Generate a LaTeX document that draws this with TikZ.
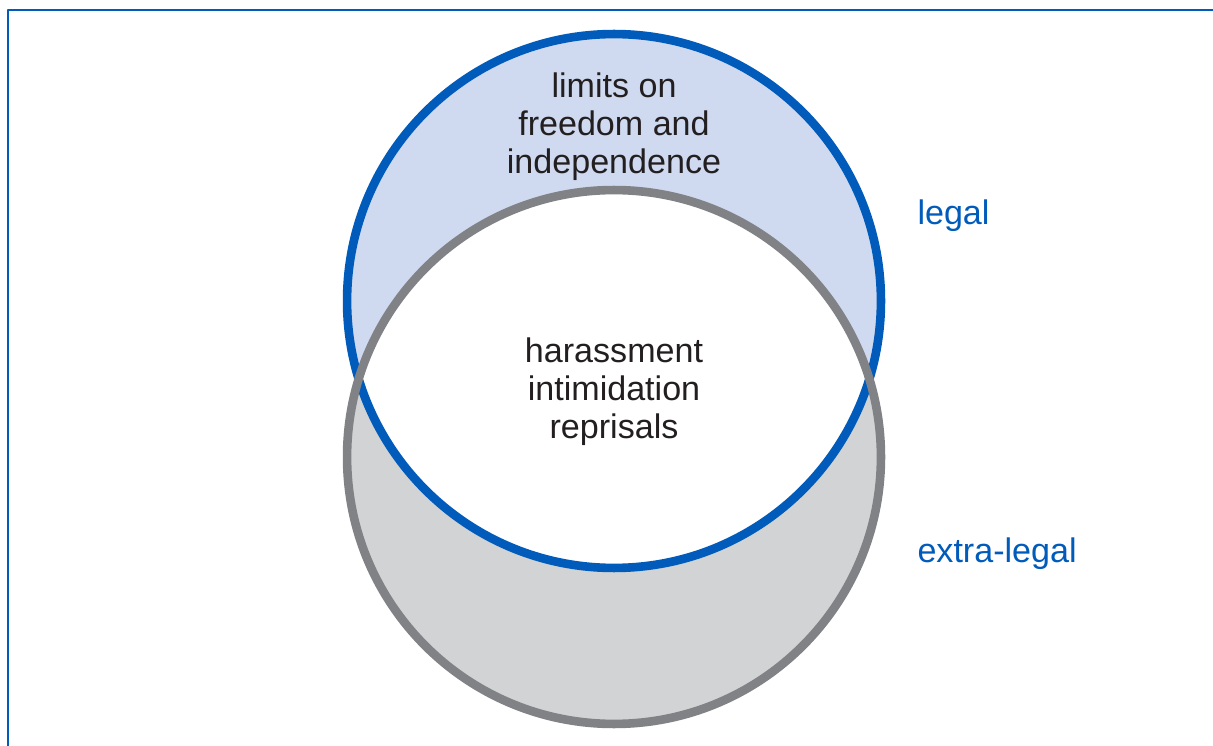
\documentclass[tikz,border=0pt]{standalone}
\usepackage{fontspec}
\setmainfont{Liberation Sans}
\definecolor{legalblue}{RGB}{0,91,187}
\definecolor{legalfill}{RGB}{207,218,240}
\definecolor{ringgray}{RGB}{128,130,133}
\definecolor{extrafill}{RGB}{209,211,212}
\definecolor{inktext}{RGB}{35,31,32}
\tikzset{every picture/.style={line width=0.75pt}}

\begin{document}
\begin{tikzpicture}[x=0.02cm, y=-0.02cm, font=\fontsize{19.4}{21.6}\selectfont, line join=round, line cap=round]
					\useasboundingbox (0,0) rectangle (1213,746);
					\path
					(614,301) coordinate (L)
					(614,457) coordinate (E)
					(8,760) coordinate (F1)
					(8,10) coordinate (F2)
					(1220,10) coordinate (F3);
					\draw[legalblue, line width=1.3pt, line cap=butt] (F1)--(F2)--(F3);
					\fill[legalfill] (L) circle[radius=5.34cm];
					\fill[extrafill] (E) circle[radius=5.34cm];
					\begin{scope}
						\clip (L) circle[radius=5.34cm];
						\fill[white] (E) circle[radius=5.34cm];
					\end{scope}
					\draw[legalblue, line width=4.9pt] (L) circle[radius=5.34cm];
					\draw[ringgray, line width=4.9pt] (E) circle[radius=5.34cm];
					\node[inktext, align=center] (limits) at (614,127) {limits on\\freedom and\\independence};
					\node[inktext, align=center] (harass) at (614,392) {harassment\\intimidation\\reprisals};
					\foreach \n/\y/\t in {legal/216/legal,extra/554/extra-legal}\node[legalblue, anchor=west] (\n) at (911,\y) {\t};
				\end{tikzpicture}
\end{document}
